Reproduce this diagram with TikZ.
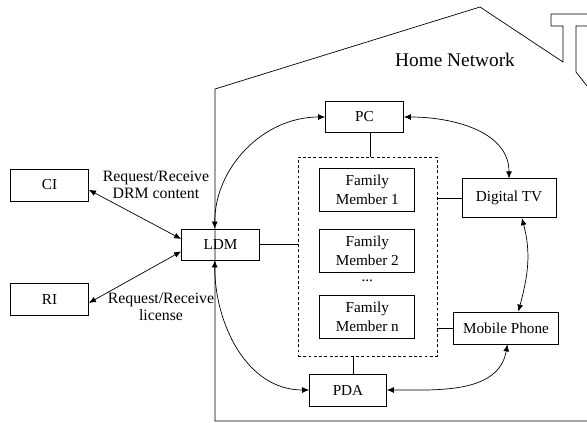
\documentclass[tikz,border=0pt]{standalone}
\usepackage{fontspec}
\setmainfont{Liberation Serif}
\usetikzlibrary{positioning,
        arrows.meta}

\begin{document}
\begin{tikzpicture}[x=0.03cm,y=-0.03cm,
            box/.style={rectangle,draw,inner sep=0pt,align=center,line width=0.6pt,font=\fontsize{13}{16}\selectfont},
            lbl/.style={align=center,inner sep=0pt,font=\fontsize{13.5}{15}\selectfont},
            arr/.style={{Latex[length=6pt,width=5pt]}-{Latex[length=6pt,width=5pt]},line width=0.6pt},
            link/.style={line width=0.6pt}]
            \useasboundingbox (0,0) rectangle (587,423);

            % house outline and chimney
            \draw [link] (587,421) -- (215,421) -- (215,89) -- (480,7) -- (563,62) -- (563,26) -- (551,26) -- (551,14) -- (587,14);
            \draw [link] (587,26) -- (576,26) -- (576,72) -- (587,86);
            \node [font=\fontsize{16.5}{18}\selectfont] (home) at (455,60) {Home Network};

            \node [box,minimum width=2.34cm,minimum height=0.96cm] (ci) at (49.5,185) {CI};
            \node [box,minimum width=2.34cm,minimum height=0.96cm] (ri) at (49.5,299.5) {RI};
            \node [box,minimum width=2.34cm,minimum height=0.93cm] (ldm) at (220.5,244.5) {LDM};
            \node [box,minimum width=2.34cm,minimum height=0.93cm] (pc) at (364.5,117) {PC};
            \node [box,minimum width=2.31cm,minimum height=0.96cm] (pda) at (348,390) {PDA};
            \node [box,minimum width=2.82cm,minimum height=1.17cm] (tv) at (509,198.3) {Digital TV};
            \node [box,minimum width=3.15cm,minimum height=0.96cm] (mp) at (506,328) {Mobile Phone};

            % family members
            \node [rectangle,draw,line width=0.6pt,dash pattern=on 2.5pt off 2pt,minimum width=4.17cm,minimum height=5.97cm] (fam) at (367.5,256.5) {};
            \node [box,minimum width=2.85cm,minimum height=1.29cm] (fm1) at (367.3,190) {Family\\Member 1};
            \node [box,minimum width=2.85cm,minimum height=1.29cm] (fm2) at (367.3,250.7) {Family\\Member 2};
            \node [font=\fontsize{13}{16}\selectfont,inner sep=0pt] (dots) at (367.3,281) {...};
            \node [box,minimum width=2.85cm,minimum height=1.29cm] (fmn) at (367.3,317) {Family\\Member n};

            \node [lbl] (drm) at (156,185) {Request/Receive\\DRM content};
            \node [lbl] (lic) at (161,307) {Request/Receive\\license};

            \draw [link] (pc.-70) -- (pc.-70 |- fam.north);
            \draw [link] (ldm.east) -- (ldm.east -| fam.west);
            \draw [link] (tv.west) -- (tv.west -| fam.east);
            \draw [link] (mp.west) -- (mp.west -| fam.east);
            \draw [link] (pda.73) -- (pda.73 |- fam.south);

            \draw [arr] (ci.-7) -- (ldm.172);
            \draw [arr] (ri.-5) -- (ldm.190);
            \draw [arr] (ldm.110) to[out=90,in=180] (pc.west);
            \draw [arr] (pc.east) to[out=0,in=90] (tv.north);
            \draw [arr] (tv.-57) to[out=-75,in=75] (mp.53);
            \draw [arr] (mp.-85) to[out=-100,in=0] (pda.east);
            \draw [arr] (ldm.250) to[out=-90,in=180] (pda.west);
        \end{tikzpicture}
\end{document}
